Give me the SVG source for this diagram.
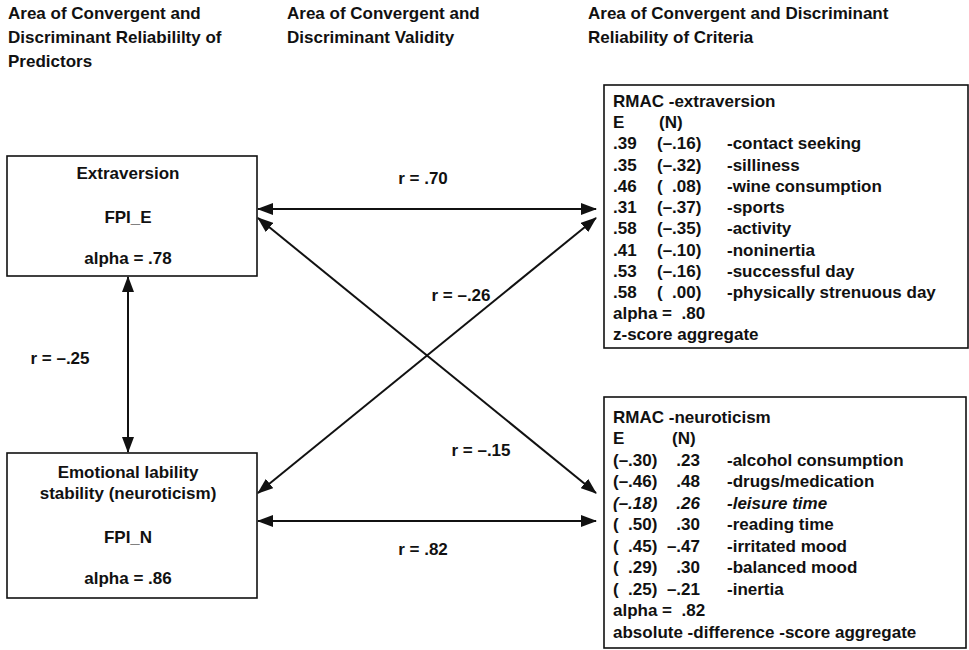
<svg xmlns="http://www.w3.org/2000/svg" width="969" height="650" viewBox="0 0 969 650">
<style>
.t{font-family:"Liberation Sans",Arial,sans-serif;font-weight:bold;font-size:17px;fill:#111;white-space:pre}
.c{text-anchor:middle}
.e{text-anchor:end}
.i{font-style:italic}
.box{fill:#fff;stroke:#111;stroke-width:1.6}
.conn{stroke:#111;stroke-width:2;fill:none;marker-start:url(#ah);marker-end:url(#ah)}
</style>
<defs>
<marker id="ah" markerUnits="userSpaceOnUse" markerWidth="16" markerHeight="12" refX="15" refY="6" orient="auto-start-reverse">
<path d="M0,0 L16,6 L0,12 z" fill="#111"/>
</marker>
</defs>
<rect width="969" height="650" fill="#fff"/>
<g id="headers">
<text class="t" x="8" y="19">Area of Convergent and</text>
<text class="t" x="8" y="43">Discriminant Reliabililty of</text>
<text class="t" x="8" y="67">Predictors</text>
<text class="t" x="287" y="19">Area of Convergent and</text>
<text class="t" x="287" y="43">Discriminant Validity</text>
<text class="t" x="588" y="19">Area of Convergent and Discriminant</text>
<text class="t" x="588" y="43">Reliability of Criteria</text>
</g>
<g id="connectors">
<line class="conn" x1="258" y1="209" x2="596" y2="209"/>
<line class="conn" x1="258" y1="521" x2="596" y2="521"/>
<line class="conn" x1="258" y1="218" x2="596" y2="493"/>
<line class="conn" x1="258" y1="493" x2="596" y2="218"/>
<line class="conn" x1="128" y1="277" x2="128" y2="452"/>
<text class="t c" x="423" y="184">r = .70</text>
<text class="t c" x="461" y="301">r = –.26</text>
<text class="t c" x="481" y="456">r = –.15</text>
<text class="t c" x="423" y="555">r = .82</text>
<text class="t c" x="60" y="364">r = –.25</text>
</g>
<g id="extraversion">
<rect class="box" x="7" y="156" width="250" height="120"/>
<text class="t c" x="128" y="179">Extraversion</text>
<text class="t c" x="128" y="223">FPI_E</text>
<text class="t c" x="128" y="264">alpha = .78</text>
</g>
<g id="neuroticism">
<rect class="box" x="7" y="453" width="250" height="145"/>
<text class="t c" x="128" y="478">Emotional lability</text>
<text class="t c" x="128" y="499">stability (neuroticism)</text>
<text class="t c" x="128" y="543">FPI_N</text>
<text class="t c" x="128" y="584">alpha = .86</text>
</g>
<g id="rmac-extraversion">
<rect class="box" x="604" y="85" width="364" height="263"/>
<text class="t" x="613" y="107">RMAC -extraversion</text>
<text class="t" x="613" y="128">E</text><text class="t" x="659" y="128">(N)</text>
<text class="t" x="613" y="149">.39</text><text class="t" x="657" y="149">(–.16)</text><text class="t" x="727" y="149">-contact seeking</text>
<text class="t" x="613" y="171">.35</text><text class="t" x="657" y="171">(–.32)</text><text class="t" x="727" y="171">-silliness</text>
<text class="t" x="613" y="192">.46</text><text class="t" x="657" y="192">(  .08)</text><text class="t" x="727" y="192">-wine consumption</text>
<text class="t" x="613" y="213">.31</text><text class="t" x="657" y="213">(–.37)</text><text class="t" x="727" y="213">-sports</text>
<text class="t" x="613" y="234">.58</text><text class="t" x="657" y="234">(–.35)</text><text class="t" x="727" y="234">-activity</text>
<text class="t" x="613" y="256">.41</text><text class="t" x="657" y="256">(–.10)</text><text class="t" x="727" y="256">-noninertia</text>
<text class="t" x="613" y="277">.53</text><text class="t" x="657" y="277">(–.16)</text><text class="t" x="727" y="277">-successful day</text>
<text class="t" x="613" y="298">.58</text><text class="t" x="657" y="298">(  .00)</text><text class="t" x="727" y="298">-physically strenuous day</text>
<text class="t" x="613" y="319">alpha =  .80</text>
<text class="t" x="613" y="340">z-score aggregate</text>
</g>
<g id="rmac-neuroticism">
<rect class="box" x="604" y="397" width="362" height="251"/>
<text class="t" x="613" y="423">RMAC -neuroticism</text>
<text class="t" x="613" y="444">E</text><text class="t" x="672" y="444">(N)</text>
<text class="t" x="613" y="466">(–.30)</text><text class="t e" x="700" y="466">.23</text><text class="t" x="727" y="466">-alcohol consumption</text>
<text class="t" x="613" y="487">(–.46)</text><text class="t e" x="700" y="487">.48</text><text class="t" x="727" y="487">-drugs/medication</text>
<text class="t i" x="613" y="509">(–.18)</text><text class="t e i" x="700" y="509">.26</text><text class="t i" x="727" y="509">-leisure time</text>
<text class="t" x="613" y="530">(  .50)</text><text class="t e" x="700" y="530">.30</text><text class="t" x="727" y="530">-reading time</text>
<text class="t" x="613" y="552">(  .45)</text><text class="t e" x="700" y="552">–.47</text><text class="t" x="727" y="552">-irritated mood</text>
<text class="t" x="613" y="573">(  .29)</text><text class="t e" x="700" y="573">.30</text><text class="t" x="727" y="573">-balanced mood</text>
<text class="t" x="613" y="595">(  .25)</text><text class="t e" x="700" y="595">–.21</text><text class="t" x="727" y="595">-inertia</text>
<text class="t" x="613" y="616">alpha =  .82</text>
<text class="t" x="613" y="638">absolute -difference -score aggregate</text>
</g>
</svg>
